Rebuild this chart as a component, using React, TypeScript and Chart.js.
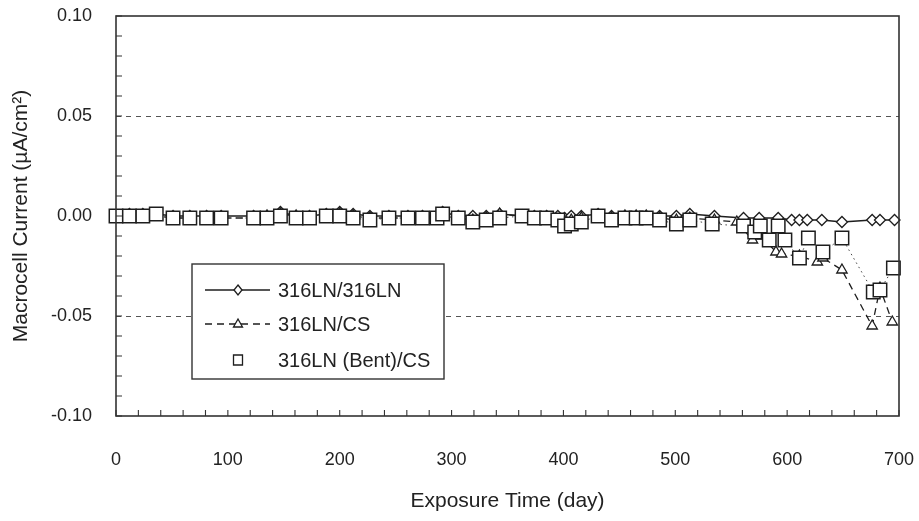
import React, { useEffect, useRef } from "react";
import { Chart, registerables } from "chart.js";

Chart.register(...registerables);

// ---- data ----
const seriesLabels = ["316LN/316LN", "316LN/CS", "316LN (Bent)/CS"];

// 316LN/316LN (diamonds, solid line)
const days1 = [0, 12, 24, 36, 51, 66, 81, 94, 123, 135, 147, 161, 173, 188, 200, 212, 227, 244, 261, 274, 287, 292, 306, 319, 331, 343, 363, 374, 385, 395, 401, 407, 416, 431, 443, 455, 465, 474, 486, 501, 513, 535, 561, 575, 592, 604, 611, 618, 631, 649, 676, 683, 696];
const vals1 = [0, 0.001, 0.001, 0.001, 0, 0, 0, 0, 0, 0, 0.002, 0, 0, 0.001, 0.002, 0.001, 0, 0, 0, 0, 0, 0.002, 0, 0, 0, 0.001, 0, 0, 0, 0, -0.001, 0, 0, 0.001, 0, 0, 0, 0, 0, 0, 0.001, 0, -0.001, -0.001, -0.001, -0.002, -0.002, -0.002, -0.002, -0.003, -0.002, -0.002, -0.002];

// 316LN/CS (triangles, dashed line)
const days2 = [0, 12, 24, 36, 51, 66, 81, 94, 123, 135, 147, 161, 173, 188, 200, 212, 227, 244, 261, 274, 287, 292, 306, 319, 331, 343, 363, 374, 385, 395, 401, 407, 416, 431, 443, 455, 465, 474, 486, 501, 513, 535, 555, 569, 577, 590, 595, 611, 627, 632, 649, 676, 683, 694];
const vals2 = [0, 0, 0, 0, -0.001, -0.001, -0.001, -0.001, -0.001, 0, 0.001, 0, -0.001, 0, 0.001, 0, -0.001, -0.001, -0.001, -0.001, -0.001, 0, -0.001, -0.002, -0.001, 0.001, 0, -0.001, -0.001, -0.002, -0.003, -0.002, -0.001, 0, -0.001, 0, 0, 0, -0.001, -0.002, -0.001, -0.002, -0.003, -0.012, -0.010, -0.018, -0.019, -0.020, -0.023, -0.021, -0.027, -0.055, -0.036, -0.053];

// 316LN (Bent)/CS (squares, dotted line)
const days3 = [0, 12, 24, 36, 51, 66, 81, 94, 123, 135, 147, 161, 173, 188, 200, 212, 227, 244, 261, 274, 287, 292, 306, 319, 331, 343, 363, 374, 385, 395, 401, 407, 416, 431, 443, 455, 465, 474, 486, 501, 513, 533, 561, 571, 576, 584, 592, 598, 611, 619, 632, 649, 677, 683, 695];
const vals3 = [0, 0, 0, 0.001, -0.001, -0.001, -0.001, -0.001, -0.001, -0.001, 0, -0.001, -0.001, 0, 0, -0.001, -0.002, -0.001, -0.001, -0.001, -0.001, 0.001, -0.001, -0.003, -0.002, -0.001, 0, -0.001, -0.001, -0.002, -0.005, -0.004, -0.003, 0, -0.002, -0.001, -0.001, -0.001, -0.002, -0.004, -0.002, -0.004, -0.005, -0.008, -0.005, -0.012, -0.005, -0.012, -0.021, -0.011, -0.018, -0.011, -0.038, -0.037, -0.026];

const xMin = 0;
const xMax = 700;
const xStep = 20;
const xLabelEvery = 100;
const yMin = -0.1;
const yMax = 0.1;
const yStep = 0.01;
const refLevels = [0.05, -0.05];

const xTitle = "Exposure Time (day)";
const yTitle = "Macrocell Current (\u00b5A/cm\u00b2)";

const INK = "#1e1e1e";
const FONT = "'Liberation Sans', Arial, sans-serif";

const toPoints = (d: number[], v: number[]) => d.map((x, i) => ({ x, y: v[i] }));

const legendLine = [true, true, false];

const decorPlugin = {
  id: "decor",
  beforeDatasetsDraw(chart: any) {
    const { ctx, chartArea: a, scales } = chart;
    const y = scales.y;
    ctx.save();
    ctx.strokeStyle = "#555";
    ctx.lineWidth = 1;
    ctx.setLineDash([5, 5]);
    refLevels.forEach((v) => {
      const py = Math.round(y.getPixelForValue(v)) + 0.5;
      ctx.beginPath();
      ctx.moveTo(a.left, py);
      ctx.lineTo(a.right, py);
      ctx.stroke();
    });
    ctx.restore();
  },
  afterDatasetsDraw(chart: any) {
    const { ctx, chartArea: a, scales } = chart;
    const x = scales.x;
    const y = scales.y;
    ctx.save();
    ctx.strokeStyle = "#333";
    ctx.lineWidth = 1.6;
    ctx.setLineDash([]);
    ctx.strokeRect(a.left, a.top, a.right - a.left, a.bottom - a.top);
    ctx.lineWidth = 1.1;
    ctx.beginPath();
    x.ticks.forEach((t: any) => {
      const px = x.getPixelForValue(t.value);
      ctx.moveTo(px, a.bottom);
      ctx.lineTo(px, a.bottom - 6);
    });
    y.ticks.forEach((t: any) => {
      const py = y.getPixelForValue(t.value);
      ctx.moveTo(a.left, py);
      ctx.lineTo(a.left + 6, py);
    });
    ctx.stroke();
    ctx.restore();
  },
  afterDraw(chart: any) {
    const { ctx, chartArea: a } = chart;
    const bx = a.left + 76;
    const by = a.top + 248;
    const bw = 252;
    const bh = 115;
    ctx.save();
    ctx.fillStyle = "#fff";
    ctx.fillRect(bx, by, bw, bh);
    ctx.strokeStyle = "#333";
    ctx.lineWidth = 1.4;
    ctx.strokeRect(bx, by, bw, bh);
    const rows = [26, 60, 96];
    chart.data.datasets.forEach((ds: any, i: number) => {
      const ry = by + rows[i];
      const lx0 = bx + 13;
      const lx1 = bx + 78;
      const mx = bx + 46;
      ctx.strokeStyle = INK;
      if (legendLine[i]) {
        ctx.lineWidth = 1.3;
        ctx.setLineDash(ds.borderDash || []);
        ctx.beginPath();
        ctx.moveTo(lx0, ry);
        ctx.lineTo(lx1, ry);
        ctx.stroke();
      }
      ctx.setLineDash([]);
      ctx.lineWidth = 1.3;
      ctx.fillStyle = "#fff";
      ctx.beginPath();
      if (ds.pointStyle === "rectRot") {
        ctx.moveTo(mx, ry - 5);
        ctx.lineTo(mx + 4, ry);
        ctx.lineTo(mx, ry + 5);
        ctx.lineTo(mx - 4, ry);
        ctx.closePath();
      } else if (ds.pointStyle === "triangle") {
        ctx.moveTo(mx, ry - 5);
        ctx.lineTo(mx + 4.5, ry + 3);
        ctx.lineTo(mx - 4.5, ry + 3);
        ctx.closePath();
      } else {
        ctx.rect(mx - 4.5, ry - 5, 9, 10);
      }
      ctx.fill();
      ctx.stroke();
      ctx.fillStyle = "#222";
      ctx.font = `20px ${FONT}`;
      ctx.textAlign = "left";
      ctx.textBaseline = "middle";
      ctx.fillText(seriesLabels[ds.legendIndex], bx + 86, ry + 1);
    });
    ctx.restore();
  },
};

export default function App() {
  const ref = useRef<HTMLCanvasElement | null>(null);

  useEffect(() => {
    if (!ref.current) return;
    const chart = new Chart(ref.current, {
      type: "line",
      data: {
        datasets: [
          {
            label: seriesLabels[0],
            legendIndex: 0,
            data: toPoints(days1, vals1),
            borderColor: INK,
            borderWidth: 1.3,
            pointStyle: "rectRot",
            pointRadius: 5.5,
            pointBorderWidth: 1.3,
            pointBorderColor: INK,
            pointBackgroundColor: "#fff",
            fill: false,
            tension: 0,
            clip: false,
            order: 2,
          } as any,
          {
            label: seriesLabels[1],
            legendIndex: 1,
            data: toPoints(days2, vals2),
            borderColor: INK,
            borderWidth: 1.3,
            borderDash: [7, 5],
            pointStyle: "triangle",
            pointRadius: 6,
            pointBorderWidth: 1.3,
            pointBorderColor: INK,
            pointBackgroundColor: "#fff",
            fill: false,
            tension: 0,
            clip: false,
            order: 1,
          } as any,
          {
            label: seriesLabels[2],
            legendIndex: 2,
            data: toPoints(days3, vals3),
            borderColor: "#444",
            borderWidth: 1,
            borderDash: [1.5, 3.5],
            pointStyle: "rect",
            pointRadius: 9.5,
            pointBorderWidth: 1.5,
            pointBorderColor: INK,
            pointBackgroundColor: "#fff",
            fill: false,
            tension: 0,
            clip: false,
            order: 0,
          } as any,
        ],
      },
      options: {
        animation: false,
        responsive: false,
        devicePixelRatio: 1,
        layout: { padding: { left: 0, top: 16, right: 20, bottom: 0 } },
        plugins: {
          legend: { display: false },
          tooltip: { enabled: false },
        },
        scales: {
          x: {
            type: "linear",
            min: xMin,
            max: xMax,
            grid: { display: false },
            border: { display: false },
            ticks: {
              stepSize: xStep,
              autoSkip: false,
              maxRotation: 0,
              padding: 25,
              color: "#222",
              font: { family: FONT, size: 18 },
              callback: (v: any) => (Math.round(v) % xLabelEvery === 0 ? String(Math.round(v)) : ""),
            },
            title: {
              display: true,
              text: xTitle,
              color: "#222",
              font: { family: FONT, size: 21 },
              padding: { top: 0, bottom: 7 },
            },
            afterFit: (s: any) => {
              s.height = 105;
              s.paddingLeft = 0;
              s.paddingRight = 0;
            },
          },
          y: {
            type: "linear",
            min: yMin,
            max: yMax,
            grid: { display: false },
            border: { display: false },
            ticks: {
              stepSize: yStep,
              autoSkip: false,
              padding: 16,
              color: "#222",
              font: { family: FONT, size: 18 },
              callback: (v: any) => {
                const r = Math.round(Number(v) * 100);
                if (r % 5 !== 0) return "";
                return (r / 100).toFixed(2);
              },
            },
            title: {
              display: true,
              text: yTitle,
              color: "#222",
              font: { family: FONT, size: 21 },
              padding: { top: 9, bottom: 0 },
            },
            afterFit: (s: any) => {
              s.width = 116;
              s.paddingTop = 0;
              s.paddingBottom = 0;
            },
          },
        },
      } as any,
      plugins: [decorPlugin],
    });
    return () => chart.destroy();
  }, []);

  return (
    <div style={{ position: "absolute", left: 0, top: 0, width: 919, height: 521, background: "#fff" }}>
      <canvas ref={ref} width={919} height={521} style={{ display: "block" }} />
    </div>
  );
}
